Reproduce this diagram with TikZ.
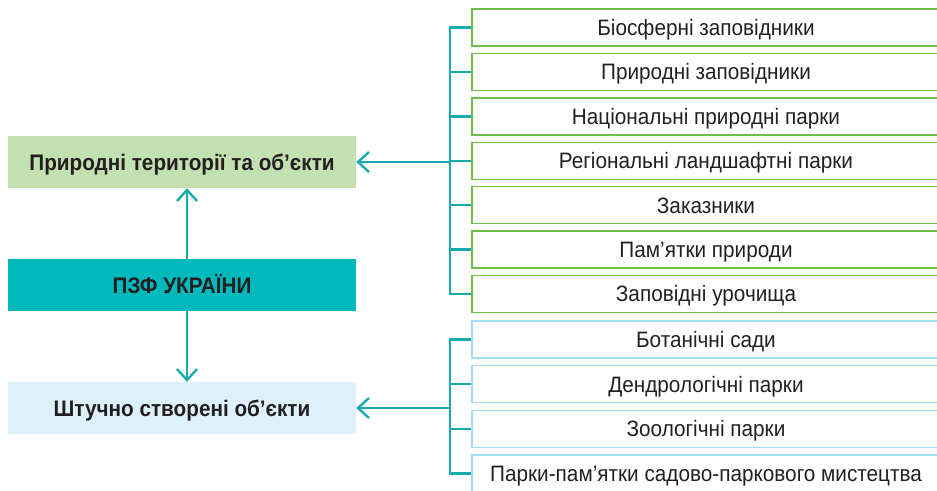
\documentclass[tikz,border=0pt]{standalone}
\usepackage{fontspec}
\setmainfont{Liberation Sans}
\newfontfamily\itemfont{Liberation Sans}[FakeStretch=0.93]
\newfontfamily\narrowbf{Liberation Sans}[FakeStretch=0.92,BoldFont={Liberation Sans Bold}]
\usetikzlibrary{arrows.meta}
\definecolor{linkteal}{HTML}{18ABAE}
\definecolor{natfill}{HTML}{C2E0B0}
\definecolor{natline}{HTML}{6CC04A}
\definecolor{pzffill}{HTML}{00B9BC}
\definecolor{artfill}{HTML}{DCF1FB}
\definecolor{artline}{HTML}{A6DDF5}
\definecolor{txt}{HTML}{231F20}

\begin{document}
\begin{tikzpicture}[x=1pt,y=-1pt,
  mainbox/.style={minimum width=348pt,minimum height=52pt,inner sep=0pt,text=txt,
    text height=16pt,text depth=0pt,
    font=\narrowbf\bfseries\fontsize{22.5}{26}\selectfont},
  natitem/.style={draw=natline,line width=1.4pt,minimum width=468pt,minimum height=37pt,
    inner sep=0pt,text=txt,text height=16pt,text depth=0pt,
    font=\itemfont\fontsize{22.3}{26}\selectfont},
  artitem/.style={natitem,draw=artline},
  link/.style={draw=linkteal,line width=2.4pt},
  arr/.style={link,-{Straight Barb[length=11pt,width=20pt]}}]
\useasboundingbox (0,0) rectangle (937,490);
% left column
\node[mainbox,fill=natfill] (nat) at (182,162) {Природні території та об’єкти};
\node[mainbox,fill=pzffill] (pzf) at (182,285) {ПЗФ УКРАЇНИ};
\node[mainbox,fill=artfill] (art) at (182,408) {Штучно створені об’єкти};
\draw[arr] ([xshift=5pt]pzf.north) -- ([xshift=5pt]nat.south);
\draw[arr] ([xshift=5pt]pzf.south) -- ([xshift=5pt]art.north);
% natural territories and objects
\node[natitem] (n1) at (706,27.5) {Біосферні заповідники};
\node[natitem] (n2) at (706,71.9) {Природні заповідники};
\node[natitem] (n3) at (706,116.3) {Національні природні парки};
\node[natitem] (n4) at (706,160.7) {Регіональні ландшафтні парки};
\node[natitem] (n5) at (706,205.1) {Заказники};
\node[natitem] (n6) at (706,249.5) {Пам’ятки природи};
\node[natitem] (n7) at (706,293.9) {Заповідні урочища};
\coordinate (nbar) at (450,162);
\draw[link] (n1.west) -| (nbar) |- (n7.west);
\draw[link] (nbar |- n2.west) -- (n2.west);
\draw[link] (nbar |- n3.west) -- (n3.west);
\draw[link] (nbar |- n4.west) -- (n4.west);
\draw[link] (nbar |- n5.west) -- (n5.west);
\draw[link] (nbar |- n6.west) -- (n6.west);
\draw[arr] (nbar) -- (nat.east);
% artificial objects
\node[artitem] (a1) at (706,339.5) {Ботанічні сади};
\node[artitem] (a2) at (706,384.1) {Дендрологічні парки};
\node[artitem] (a3) at (706,428.7) {Зоологічні парки};
\node[artitem] (a4) at (706,473.3) {Парки-пам’ятки садово-паркового мистецтва};
\coordinate (abar) at (450,408);
\draw[link] (a1.west) -| (abar) |- (a4.west);
\draw[link] (abar |- a2.west) -- (a2.west);
\draw[link] (abar |- a3.west) -- (a3.west);
\draw[arr] (abar) -- (art.east);
\end{tikzpicture}
\end{document}
